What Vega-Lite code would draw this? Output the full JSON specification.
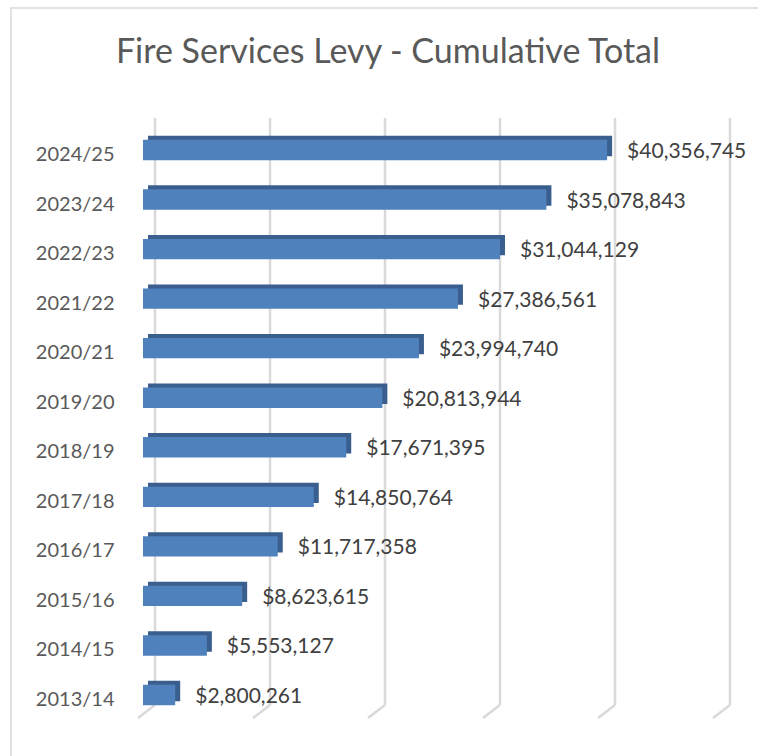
{
  "$schema": "https://vega.github.io/schema/vega-lite/v6.json",
  "width": 752,
  "height": 753,
  "padding": {"left": 11, "top": 8, "right": 0, "bottom": 0},
  "background": "white",
  "config": {
    "view": {"stroke": "#d9d9d9", "strokeWidth": 1.5},
    "font": "Lato"
  },
  "title": {
    "text": "Fire Services Levy - Cumulative Total",
    "fontSize": 34,
    "font": "Lato",
    "fontWeight": "normal",
    "color": "#595959",
    "offset": -62,
    "dx": 1,
    "anchor": "middle"
  },
  "datasets": {
    "levy": [
      {"year": "2024/25", "total": 40356745},
      {"year": "2023/24", "total": 35078843},
      {"year": "2022/23", "total": 31044129},
      {"year": "2021/22", "total": 27386561},
      {"year": "2020/21", "total": 23994740},
      {"year": "2019/20", "total": 20813944},
      {"year": "2018/19", "total": 17671395},
      {"year": "2017/18", "total": 14850764},
      {"year": "2016/17", "total": 11717358},
      {"year": "2015/16", "total": 8623615},
      {"year": "2014/15", "total": 5553127},
      {"year": "2013/14", "total": 2800261}
    ],
    "grid": [
      {"v": 0}, {"v": 10000000}, {"v": 20000000}, {"v": 30000000}, {"v": 40000000}, {"v": 50000000}
    ]
  },
  "layer": [
    {
      "data": {"name": "grid"},
      "mark": {"type": "rule", "color": "#d9d9d9", "strokeWidth": 2.5, "xOffset": 12, "yOffset": -32, "y2Offset": 10},
      "encoding": {
        "x": {"field": "v", "type": "quantitative", "scale": {"domain": [0, 50000000], "range": [132, 707], "nice": false}, "axis": null},
        "y": {
          "datum": "2024/25", "type": "nominal",
          "scale": {
            "domain": ["2024/25", "2023/24", "2022/23", "2021/22", "2020/21", "2019/20", "2018/19", "2017/18", "2016/17", "2015/16", "2014/15", "2013/14"],
            "range": [117.2, 711.8], "paddingInner": 0, "paddingOuter": 0
          },
          "axis": {
            "title": null, "domain": false, "ticks": false, "grid": false,
            "labelFontSize": 20, "labelColor": "#595959", "labelFont": "Lato",
            "labelPadding": 4, "labelOffset": 5, "offset": -107
          }
        },
        "y2": {"datum": "2013/14"}
      }
    },
    {
      "data": {"name": "grid"},
      "mark": {"type": "rule", "color": "#d9d9d9", "strokeWidth": 2.5, "xOffset": -5, "x2Offset": 12, "yOffset": 23, "y2Offset": 10},
      "encoding": {
        "x": {"field": "v", "type": "quantitative"},
        "x2": {"field": "v"},
        "y": {"datum": "2013/14", "type": "nominal"},
        "y2": {"datum": "2013/14"}
      }
    },
    {
      "data": {"name": "levy"},
      "mark": {"type": "bar", "color": "#3a5f8e", "height": {"band": 0.41}, "xOffset": 5, "yOffset": -4},
      "encoding": {
        "x": {"field": "total", "type": "quantitative"},
        "y": {"field": "year", "type": "nominal", "sort": null}
      }
    },
    {
      "data": {"name": "levy"},
      "mark": {"type": "bar", "color": "#4f81bd", "height": {"band": 0.41}},
      "encoding": {
        "x": {"field": "total", "type": "quantitative"},
        "y": {"field": "year", "type": "nominal", "sort": null}
      }
    },
    {
      "data": {"name": "levy"},
      "mark": {"type": "text", "align": "left", "baseline": "middle", "dx": 20, "dy": 2, "fontSize": 21, "font": "Lato", "color": "#404040"},
      "encoding": {
        "x": {"field": "total", "type": "quantitative"},
        "y": {"field": "year", "type": "nominal", "sort": null},
        "text": {"field": "total", "type": "quantitative", "format": "$,.0f"}
      }
    }
  ]
}
